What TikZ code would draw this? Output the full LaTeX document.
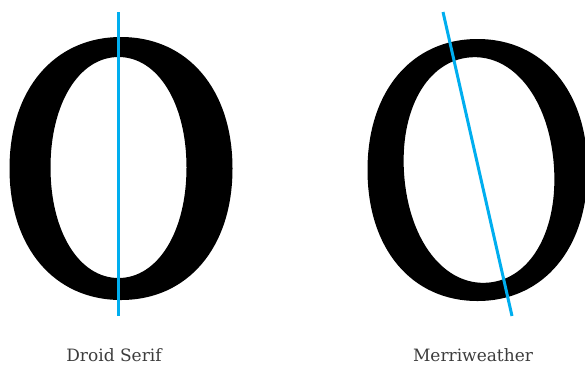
\documentclass[tikz,border=0pt]{standalone}
\usepackage{fontspec}
\setmainfont{DejaVu Serif}
\usepackage{tikz}
\usetikzlibrary{positioning}
\definecolor{axisblue}{RGB}{0,174,239}
\definecolor{labelgray}{RGB}{60,60,60}
\tikzset{
  glyph/.style={fill=black,even odd rule},
  stressaxis/.style={draw=axisblue,line width=3pt},
  caption/.style={font=\fontsize{17}{20}\selectfont,text=labelgray,inner sep=0pt,anchor=base}
}
% oval with fuller shoulders than an ellipse: {cx}{cy}{rx}{ry}{k}
\newcommand{\ovalpath}[5]{%
  ({#1+#3},#2) .. controls ({#1+#3},{#2+#5*#4}) and ({#1+#5*#3},{#2+#4}) .. (#1,{#2+#4})
  .. controls ({#1-#5*#3},{#2+#4}) and ({#1-#3},{#2+#5*#4}) .. ({#1-#3},#2)
  .. controls ({#1-#3},{#2-#5*#4}) and ({#1-#5*#3},{#2-#4}) .. (#1,{#2-#4})
  .. controls ({#1+#5*#3},{#2-#4}) and ({#1+#3},{#2-#5*#4}) .. ({#1+#3},#2) -- cycle}

\begin{document}
\begin{tikzpicture}[x=1pt,y=-1pt]
  \useasboundingbox (0,0) rectangle (585,365);

  % Droid Serif: vertical stress
  \path[glyph] \ovalpath{121}{168.5}{111.5}{131.5}{0.6}
               \ovalpath{118.5}{167.5}{68}{110.5}{0.58};
  \coordinate (droidtop) at (118,12);
  \coordinate (droidbot) at (118,316);
  \draw[stressaxis] (droidtop) -- (droidbot);

  % Merriweather: oblique stress
  \path[glyph] \ovalpath{477.5}{170}{110}{131}{0.6}
               [rotate around={4.5:(479,170)}] \ovalpath{479}{170}{75}{113}{0.58};
  \coordinate (merritop) at (443,12);
  \coordinate (merribot) at (512,316);
  \draw[stressaxis] (merritop) -- (merribot);

  \node[caption] (droidlabel) at (114,361) {Droid Serif};
  \node[caption] (merrilabel) at (473,361) {Merriweather};
\end{tikzpicture}
\end{document}
